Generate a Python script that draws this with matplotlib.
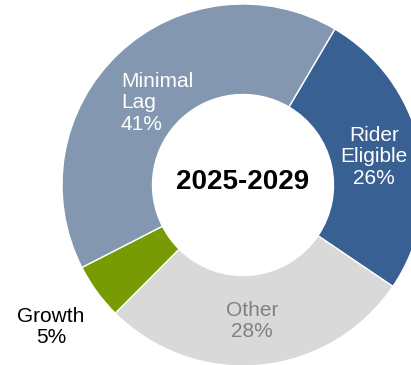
import matplotlib.pyplot as plt

plt.rcParams['font.family'] = ['Liberation Sans', 'DejaVu Sans']

# Datos del periodo
categorias = ['Rider\nEligible', 'Other', 'Growth', 'Minimal\nLag']
porcentajes = [26, 28, 5, 41]
colores = ['#386092', '#D9D9D9', '#789A02', '#8497B0']
periodo = '2025-2029'

fig = plt.figure(figsize=(4.11, 3.65), dpi=100)
ax = fig.add_axes([0, 0, 1, 1])

# Dona: el primer segmento empieza a ~30 grados a la derecha de la vertical
ax.pie(porcentajes, colors=colores, startangle=59.5, counterclock=False,
       radius=1.0, wedgeprops=dict(width=0.5, edgecolor='white', linewidth=1.0))

# Centro en (243, 185) px y radio de 181 px
cx, cy, r = 243, 185, 181
ax.set_xlim(-cx / r, (411 - cx) / r)
ax.set_ylim(-(365 - cy) / r, cy / r)
ax.set_aspect('auto')
ax.axis('off')


def px(x, y):
    return (x - cx) / r, (cy - y) / r


etiquetas = [f'{c}\n{p}%' for c, p in zip(categorias, porcentajes)]

# Etiquetas de cada segmento
ax.text(*px(374, 157), etiquetas[0], ha='center', va='center', color='white',
        fontsize=15, linespacing=1.17)
ax.text(*px(252, 321), etiquetas[1], ha='center', va='center', color='#808080',
        fontsize=15, linespacing=1.17)
ax.text(*px(51, 327), etiquetas[2], ha='center', va='center', color='black',
        fontsize=15, linespacing=1.17)
ax.text(*px(121, 103), etiquetas[3], ha='left', va='center', color='white',
        fontsize=15, linespacing=1.17)

# Texto central
ax.text(0, px(0, 182)[1], periodo, ha='center', va='center', fontsize=20,
        fontweight='bold', color='black')

fig.savefig('out.png', dpi=100)
